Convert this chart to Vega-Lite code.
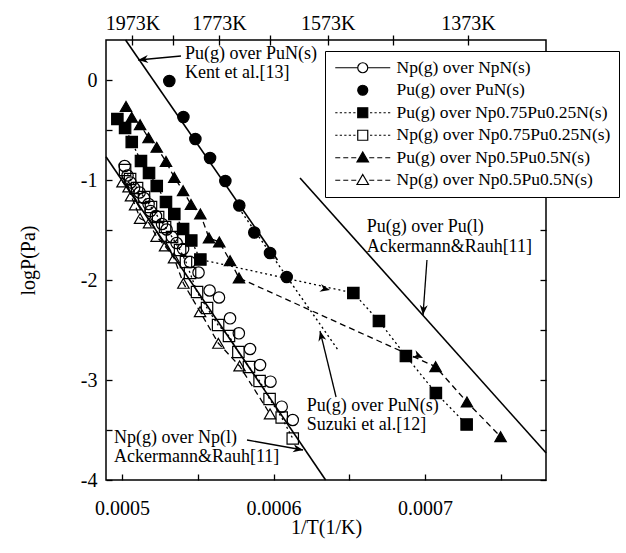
{
  "$schema": "https://vega.github.io/schema/vega-lite/v6.json",
  "width": 440,
  "height": 440,
  "autosize": {"type": "none"},
  "padding": {"left": 106, "top": 40, "right": 80, "bottom": 73},
  "background": "white",
  "datasets": {
    "pts": [
      {"series": "Np(g) over NpN(s)", "x": 0.0005017, "y": -0.86},
      {"series": "Np(g) over NpN(s)", "x": 0.0005036, "y": -0.955},
      {"series": "Np(g) over NpN(s)", "x": 0.0005056, "y": -1.025},
      {"series": "Np(g) over NpN(s)", "x": 0.0005079, "y": -1.08},
      {"series": "Np(g) over NpN(s)", "x": 0.0005116, "y": -1.125},
      {"series": "Np(g) over NpN(s)", "x": 0.0005145, "y": -1.18},
      {"series": "Np(g) over NpN(s)", "x": 0.0005175, "y": -1.24},
      {"series": "Np(g) over NpN(s)", "x": 0.0005188, "y": -1.31},
      {"series": "Np(g) over NpN(s)", "x": 0.0005224, "y": -1.36},
      {"series": "Np(g) over NpN(s)", "x": 0.0005264, "y": -1.44},
      {"series": "Np(g) over NpN(s)", "x": 0.0005294, "y": -1.495},
      {"series": "Np(g) over NpN(s)", "x": 0.000533, "y": -1.57},
      {"series": "Np(g) over NpN(s)", "x": 0.000536, "y": -1.63},
      {"series": "Np(g) over NpN(s)", "x": 0.0005403, "y": -1.69},
      {"series": "Np(g) over NpN(s)", "x": 0.0005449, "y": -1.82},
      {"series": "Np(g) over NpN(s)", "x": 0.0005505, "y": -1.925},
      {"series": "Np(g) over NpN(s)", "x": 0.0005578, "y": -2.105},
      {"series": "Np(g) over NpN(s)", "x": 0.000564, "y": -2.175},
      {"series": "Np(g) over NpN(s)", "x": 0.0005713, "y": -2.383},
      {"series": "Np(g) over NpN(s)", "x": 0.0005771, "y": -2.533},
      {"series": "Np(g) over NpN(s)", "x": 0.0005845, "y": -2.69},
      {"series": "Np(g) over NpN(s)", "x": 0.0005911, "y": -2.85},
      {"series": "Np(g) over NpN(s)", "x": 0.000598, "y": -3.017},
      {"series": "Np(g) over NpN(s)", "x": 0.0006054, "y": -3.267},
      {"series": "Np(g) over NpN(s)", "x": 0.0006127, "y": -3.4},
      {"series": "Pu(g) over PuN(s)", "x": 0.0005312, "y": -0.01},
      {"series": "Pu(g) over PuN(s)", "x": 0.0005405, "y": -0.37},
      {"series": "Pu(g) over PuN(s)", "x": 0.0005484, "y": -0.59},
      {"series": "Pu(g) over PuN(s)", "x": 0.0005581, "y": -0.78},
      {"series": "Pu(g) over PuN(s)", "x": 0.0005682, "y": -1.01},
      {"series": "Pu(g) over PuN(s)", "x": 0.0005774, "y": -1.255},
      {"series": "Pu(g) over PuN(s)", "x": 0.0005873, "y": -1.525},
      {"series": "Pu(g) over PuN(s)", "x": 0.0005977, "y": -1.73},
      {"series": "Pu(g) over PuN(s)", "x": 0.0006087, "y": -1.97},
      {"series": "Pu(g) over Np0.75Pu0.25N(s)", "x": 0.0004969, "y": -0.39},
      {"series": "Pu(g) over Np0.75Pu0.25N(s)", "x": 0.000502, "y": -0.48},
      {"series": "Pu(g) over Np0.75Pu0.25N(s)", "x": 0.0005064, "y": -0.62},
      {"series": "Pu(g) over Np0.75Pu0.25N(s)", "x": 0.0005125, "y": -0.81},
      {"series": "Pu(g) over Np0.75Pu0.25N(s)", "x": 0.0005178, "y": -0.93},
      {"series": "Pu(g) over Np0.75Pu0.25N(s)", "x": 0.0005229, "y": -1.06},
      {"series": "Pu(g) over Np0.75Pu0.25N(s)", "x": 0.000529, "y": -1.22},
      {"series": "Pu(g) over Np0.75Pu0.25N(s)", "x": 0.0005345, "y": -1.34},
      {"series": "Pu(g) over Np0.75Pu0.25N(s)", "x": 0.0005403, "y": -1.49},
      {"series": "Pu(g) over Np0.75Pu0.25N(s)", "x": 0.0005457, "y": -1.605},
      {"series": "Pu(g) over Np0.75Pu0.25N(s)", "x": 0.0005517, "y": -1.795},
      {"series": "Pu(g) over Np0.75Pu0.25N(s)", "x": 0.0006527, "y": -2.13},
      {"series": "Pu(g) over Np0.75Pu0.25N(s)", "x": 0.0006696, "y": -2.41},
      {"series": "Pu(g) over Np0.75Pu0.25N(s)", "x": 0.0006874, "y": -2.76},
      {"series": "Pu(g) over Np0.75Pu0.25N(s)", "x": 0.0007072, "y": -3.13},
      {"series": "Pu(g) over Np0.75Pu0.25N(s)", "x": 0.0007275, "y": -3.445},
      {"series": "Np(g) over Np0.75Pu0.25N(s)", "x": 0.000502, "y": -0.9},
      {"series": "Np(g) over Np0.75Pu0.25N(s)", "x": 0.0005053, "y": -0.99},
      {"series": "Np(g) over Np0.75Pu0.25N(s)", "x": 0.0005099, "y": -1.08},
      {"series": "Np(g) over Np0.75Pu0.25N(s)", "x": 0.0005145, "y": -1.17},
      {"series": "Np(g) over Np0.75Pu0.25N(s)", "x": 0.0005191, "y": -1.27},
      {"series": "Np(g) over Np0.75Pu0.25N(s)", "x": 0.0005238, "y": -1.37},
      {"series": "Np(g) over Np0.75Pu0.25N(s)", "x": 0.0005284, "y": -1.47},
      {"series": "Np(g) over Np0.75Pu0.25N(s)", "x": 0.000533, "y": -1.57},
      {"series": "Np(g) over Np0.75Pu0.25N(s)", "x": 0.0005383, "y": -1.7},
      {"series": "Np(g) over Np0.75Pu0.25N(s)", "x": 0.0005422, "y": -1.82},
      {"series": "Np(g) over Np0.75Pu0.25N(s)", "x": 0.0005449, "y": -1.93},
      {"series": "Np(g) over Np0.75Pu0.25N(s)", "x": 0.0005495, "y": -2.12},
      {"series": "Np(g) over Np0.75Pu0.25N(s)", "x": 0.0005561, "y": -2.28},
      {"series": "Np(g) over Np0.75Pu0.25N(s)", "x": 0.0005634, "y": -2.45},
      {"series": "Np(g) over Np0.75Pu0.25N(s)", "x": 0.0005706, "y": -2.56},
      {"series": "Np(g) over Np0.75Pu0.25N(s)", "x": 0.0005768, "y": -2.72},
      {"series": "Np(g) over Np0.75Pu0.25N(s)", "x": 0.0005838, "y": -2.87},
      {"series": "Np(g) over Np0.75Pu0.25N(s)", "x": 0.0005908, "y": -3.01},
      {"series": "Np(g) over Np0.75Pu0.25N(s)", "x": 0.0005974, "y": -3.19},
      {"series": "Np(g) over Np0.75Pu0.25N(s)", "x": 0.0006054, "y": -3.375},
      {"series": "Np(g) over Np0.75Pu0.25N(s)", "x": 0.0006127, "y": -3.585},
      {"series": "Pu(g) over Np0.5Pu0.5N(s)", "x": 0.0005026, "y": -0.265},
      {"series": "Pu(g) over Np0.5Pu0.5N(s)", "x": 0.0005064, "y": -0.373},
      {"series": "Pu(g) over Np0.5Pu0.5N(s)", "x": 0.0005119, "y": -0.447},
      {"series": "Pu(g) over Np0.5Pu0.5N(s)", "x": 0.0005175, "y": -0.578},
      {"series": "Pu(g) over Np0.5Pu0.5N(s)", "x": 0.0005229, "y": -0.673},
      {"series": "Pu(g) over Np0.5Pu0.5N(s)", "x": 0.000529, "y": -0.815},
      {"series": "Pu(g) over Np0.5Pu0.5N(s)", "x": 0.0005345, "y": -0.975},
      {"series": "Pu(g) over Np0.5Pu0.5N(s)", "x": 0.0005403, "y": -1.107},
      {"series": "Pu(g) over Np0.5Pu0.5N(s)", "x": 0.0005455, "y": -1.245},
      {"series": "Pu(g) over Np0.5Pu0.5N(s)", "x": 0.0005517, "y": -1.34},
      {"series": "Pu(g) over Np0.5Pu0.5N(s)", "x": 0.0005574, "y": -1.58},
      {"series": "Pu(g) over Np0.5Pu0.5N(s)", "x": 0.0005642, "y": -1.62},
      {"series": "Pu(g) over Np0.5Pu0.5N(s)", "x": 0.0005713, "y": -1.807},
      {"series": "Pu(g) over Np0.5Pu0.5N(s)", "x": 0.0005772, "y": -1.98},
      {"series": "Pu(g) over Np0.5Pu0.5N(s)", "x": 0.000707, "y": -2.867},
      {"series": "Pu(g) over Np0.5Pu0.5N(s)", "x": 0.0007277, "y": -3.22},
      {"series": "Pu(g) over Np0.5Pu0.5N(s)", "x": 0.0007499, "y": -3.567},
      {"series": "Np(g) over Np0.5Pu0.5N(s)", "x": 0.0005003, "y": -1.02},
      {"series": "Np(g) over Np0.5Pu0.5N(s)", "x": 0.0005043, "y": -1.07},
      {"series": "Np(g) over Np0.5Pu0.5N(s)", "x": 0.0005059, "y": -1.16},
      {"series": "Np(g) over Np0.5Pu0.5N(s)", "x": 0.0005086, "y": -1.25},
      {"series": "Np(g) over Np0.5Pu0.5N(s)", "x": 0.0005119, "y": -1.385},
      {"series": "Np(g) over Np0.5Pu0.5N(s)", "x": 0.0005178, "y": -1.43},
      {"series": "Np(g) over Np0.5Pu0.5N(s)", "x": 0.0005228, "y": -1.565},
      {"series": "Np(g) over Np0.5Pu0.5N(s)", "x": 0.0005284, "y": -1.66},
      {"series": "Np(g) over Np0.5Pu0.5N(s)", "x": 0.0005343, "y": -1.78},
      {"series": "Np(g) over Np0.5Pu0.5N(s)", "x": 0.0005405, "y": -2.033},
      {"series": "Np(g) over Np0.5Pu0.5N(s)", "x": 0.0005515, "y": -2.317},
      {"series": "Np(g) over Np0.5Pu0.5N(s)", "x": 0.0005636, "y": -2.633},
      {"series": "Np(g) over Np0.5Pu0.5N(s)", "x": 0.0005776, "y": -2.86},
      {"series": "Np(g) over Np0.5Pu0.5N(s)", "x": 0.0005977, "y": -3.34}
    ],
    "ref": [
      {"name": "Kent", "x": 0.0005023, "y": 0.4},
      {"name": "Kent", "x": 0.0006026, "y": -1.8},
      {"name": "NpL", "x": 0.0004894, "y": -0.767},
      {"name": "NpL", "x": 0.0006344, "y": -4.0},
      {"name": "PuL", "x": 0.0006175, "y": -0.98},
      {"name": "PuL", "x": 0.00078, "y": -3.73},
      {"name": "Suzuki", "x": 0.0005752, "y": -1.24},
      {"name": "Suzuki", "x": 0.0006426, "y": -2.7}
    ],
    "txt": [
      {"x": 0.0005416, "y": 0.26, "text": "Pu(g) over PuN(s)"},
      {"x": 0.0005416, "y": 0.07, "text": "Kent et al.[13]"},
      {"x": 0.0006615, "y": -1.467, "text": "Pu(g) over Pu(l)"},
      {"x": 0.0006615, "y": -1.667, "text": "Ackermann&Rauh[11]"},
      {"x": 0.0006219, "y": -3.26, "text": "Pu(g) over PuN(s)"},
      {"x": 0.0006219, "y": -3.45, "text": "Suzuki et al.[12]"},
      {"x": 0.0004947, "y": -3.58, "text": "Np(g) over Np(l)"},
      {"x": 0.0004947, "y": -3.77, "text": "Ackermann&Rauh[11]"}
    ],
    "arr": [
      {"x": 0.0005389, "y": 0.24, "x2": 0.0005106, "y2": 0.2},
      {"x": 0.0007013, "y": -1.8, "x2": 0.0006987, "y2": -2.35},
      {"x": 0.0006413, "y": -3.17, "x2": 0.0006307, "y2": -2.51},
      {"x": 0.0005825, "y": -3.6, "x2": 0.0006195, "y2": -3.7}
    ],
    "heads": [
      {"x": 0.0005106, "y": 0.2, "angle": 174.6},
      {"x": 0.0006987, "y": -2.35, "angle": 94.2},
      {"x": 0.0006307, "y": -2.51, "angle": 256.4},
      {"x": 0.0006195, "y": -3.7, "angle": 10.1},
      {"x": 0.0006373, "y": -2.1, "angle": 12.2},
      {"x": 0.0006987, "y": -2.78, "angle": 24.4}
    ]
  },
  "resolve": {
    "axis": {"x": "independent", "y": "independent"},
    "scale": {"shape": "independent", "fill": "independent", "stroke": "independent"}
  },
  "layer": [
    {
      "data": {"name": "ref"},
      "transform": [{"filter": "datum.name !== 'Suzuki'"}],
      "mark": {"type": "line", "color": "black", "strokeWidth": 1.6},
      "encoding": {
        "x": {"field": "x", "type": "quantitative",
          "scale": {"domain": [0.0004894, 0.0007799], "nice": false, "zero": false},
          "axis": {"orient": "bottom", "title": "1/T(1/K)",
            "values": [0.0005, 0.00055, 0.0006, 0.00065, 0.0007, 0.00075],
            "labelExpr": "round(datum.value*100000) % 10 === 0 ? format(datum.value, '.4f') : ''",
            "tickSize": -6, "labelPadding": 24, "titlePadding": -1, "labelFlush": false, "labelOverlap": false}},
        "y": {"field": "y", "type": "quantitative",
          "scale": {"domain": [-4, 0.4], "nice": false, "zero": false},
          "axis": {"orient": "left", "title": "logP(Pa)",
            "values": [-4, -3.5, -3, -2.5, -2, -1.5, -1, -0.5, 0],
            "labelExpr": "datum.value % 1 !== 0 ? '' : (datum.value === 0 ? '0' : '-' + abs(datum.value))",
            "tickSize": -6, "labelPadding": 15, "titlePadding": 42, "labelOverlap": false}},
        "detail": {"field": "name"}
      }
    },
    {
      "data": {"name": "ref"},
      "transform": [{"filter": "datum.name === 'Suzuki'"}],
      "mark": {"type": "line", "color": "black", "strokeWidth": 1.4, "strokeDash": [2, 3]},
      "encoding": {
        "x": {"field": "x", "type": "quantitative",
          "scale": {"domain": [0.0004894, 0.0007799], "nice": false, "zero": false},
          "axis": {"orient": "top", "title": null,
            "values": [0.000506842, 0.000533903, 0.000564016, 0.000597729, 0.000635728, 0.000678887, 0.000728332],
            "labelExpr": "indexof([1973, 1773, 1573, 1373], round(1/datum.value)) >= 0 ? round(1/datum.value) + 'K' : ''",
            "offset": -5, "tickSize": 10, "labelPadding": 2, "labelFlush": false, "labelOverlap": false}},
        "y": {"field": "y", "type": "quantitative",
          "scale": {"domain": [-4, 0.4], "nice": false, "zero": false},
          "axis": {"orient": "right", "title": null, "labels": false,
            "values": [-4, -3.5, -3, -2.5, -2, -1.5, -1, -0.5, 0], "tickSize": -6}}
      }
    },
    {
      "data": {"name": "pts"},
      "transform": [{"filter": "indexof(datum.series, '0.75') >= 0"}],
      "mark": {"type": "line", "color": "black", "strokeWidth": 1.3, "strokeDash": [2, 3]},
      "encoding": {
        "x": {"field": "x", "type": "quantitative", "scale": {"domain": [0.0004894, 0.0007799], "nice": false, "zero": false}, "axis": null},
        "y": {"field": "y", "type": "quantitative", "scale": {"domain": [-4, 0.4], "nice": false, "zero": false}, "axis": null},
        "detail": {"field": "series"}
      }
    },
    {
      "data": {"name": "pts"},
      "transform": [{"filter": "indexof(datum.series, '0.5Pu0.5') >= 0"}],
      "mark": {"type": "line", "color": "black", "strokeWidth": 1.3, "strokeDash": [6, 4]},
      "encoding": {
        "x": {"field": "x", "type": "quantitative", "scale": {"domain": [0.0004894, 0.0007799], "nice": false, "zero": false}, "axis": null},
        "y": {"field": "y", "type": "quantitative", "scale": {"domain": [-4, 0.4], "nice": false, "zero": false}, "axis": null},
        "detail": {"field": "series"}
      }
    },
    {
      "data": {"name": "arr"},
      "mark": {"type": "rule", "color": "black", "strokeWidth": 1.3},
      "encoding": {
        "x": {"field": "x", "type": "quantitative", "scale": {"domain": [0.0004894, 0.0007799], "nice": false, "zero": false}, "axis": null},
        "y": {"field": "y", "type": "quantitative", "scale": {"domain": [-4, 0.4], "nice": false, "zero": false}, "axis": null},
        "x2": {"field": "x2"},
        "y2": {"field": "y2"}
      }
    },
    {
      "data": {"name": "heads"},
      "mark": {"type": "point", "shape": "M0,0L-2,-0.8L-1.4,0L-2,0.8Z", "filled": true, "color": "black", "size": 100, "opacity": 1},
      "encoding": {
        "x": {"field": "x", "type": "quantitative", "scale": {"domain": [0.0004894, 0.0007799], "nice": false, "zero": false}, "axis": null},
        "y": {"field": "y", "type": "quantitative", "scale": {"domain": [-4, 0.4], "nice": false, "zero": false}, "axis": null},
        "angle": {"field": "angle", "type": "quantitative", "scale": null}
      }
    },
    {
      "data": {"name": "pts"},
      "mark": {"type": "point", "filled": true, "stroke": "black", "strokeWidth": 1.2, "opacity": 1, "size": 130},
      "encoding": {
        "x": {"field": "x", "type": "quantitative", "scale": {"domain": [0.0004894, 0.0007799], "nice": false, "zero": false}, "axis": null},
        "y": {"field": "y", "type": "quantitative", "scale": {"domain": [-4, 0.4], "nice": false, "zero": false}, "axis": null},
        "fill": {"field": "series", "type": "nominal",
          "scale": {"domain": ["Np(g) over NpN(s)", "Pu(g) over PuN(s)", "Pu(g) over Np0.75Pu0.25N(s)", "Np(g) over Np0.75Pu0.25N(s)", "Pu(g) over Np0.5Pu0.5N(s)", "Np(g) over Np0.5Pu0.5N(s)"],
            "range": ["transparent", "black", "black", "transparent", "black", "transparent"]},
          "legend": null},
        "shape": {"field": "series", "type": "nominal",
          "scale": {"domain": ["Np(g) over NpN(s)", "Pu(g) over PuN(s)", "Pu(g) over Np0.75Pu0.25N(s)", "Np(g) over Np0.75Pu0.25N(s)", "Pu(g) over Np0.5Pu0.5N(s)", "Np(g) over Np0.5Pu0.5N(s)"],
            "range": ["circle", "circle", "square", "square", "triangle-up", "triangle-up"]},
          "legend": null}
      }
    },
    {
      "data": {"name": "pts"},
      "transform": [{"filter": "false"}],
      "mark": {"type": "point", "filled": true, "size": 100, "strokeWidth": 1.2},
      "encoding": {
        "x": {"field": "x", "type": "quantitative", "scale": {"domain": [0.0004894, 0.0007799], "nice": false, "zero": false}, "axis": null},
        "y": {"field": "y", "type": "quantitative", "scale": {"domain": [-4, 0.4], "nice": false, "zero": false}, "axis": null},
        "fill": {"field": "series", "type": "nominal",
          "scale": {"domain": ["Np(g) over NpN(s)", "Pu(g) over PuN(s)", "Pu(g) over Np0.75Pu0.25N(s)", "Np(g) over Np0.75Pu0.25N(s)", "Pu(g) over Np0.5Pu0.5N(s)", "Np(g) over Np0.5Pu0.5N(s)"],
            "range": ["white", "black", "black", "white", "black", "white"]},
          "legend": {
            "orient": "none", "legendX": 219, "legendY": 11, "title": null, "zindex": 2,
            "padding": 8, "fillColor": "white", "strokeColor": "black",
            "labelFont": "Liberation Serif", "labelFontSize": 17.5, "labelColor": "black", "labelLimit": 400,
            "symbolSize": 100, "symbolOffset": 21, "labelOffset": 25, "rowPadding": 3.5,
            "symbolStrokeWidth": 1.2, "symbolOpacity": 1}},
        "stroke": {"field": "series", "type": "nominal",
          "scale": {"domain": ["Np(g) over NpN(s)", "Pu(g) over PuN(s)", "Pu(g) over Np0.75Pu0.25N(s)", "Np(g) over Np0.75Pu0.25N(s)", "Pu(g) over Np0.5Pu0.5N(s)", "Np(g) over Np0.5Pu0.5N(s)"],
            "range": ["black", "black", "black", "black", "black", "black"]},
          "legend": {
            "orient": "none", "legendX": 219, "legendY": 11, "title": null, "zindex": 2,
            "padding": 8, "fillColor": "white", "strokeColor": "black",
            "labelFont": "Liberation Serif", "labelFontSize": 17.5, "labelColor": "black", "labelLimit": 400,
            "symbolSize": 100, "symbolOffset": 21, "labelOffset": 25, "rowPadding": 3.5,
            "symbolStrokeWidth": 1.2, "symbolOpacity": 1}},
        "shape": {"field": "series", "type": "nominal",
          "scale": {"domain": ["Np(g) over NpN(s)", "Pu(g) over PuN(s)", "Pu(g) over Np0.75Pu0.25N(s)", "Np(g) over Np0.75Pu0.25N(s)", "Pu(g) over Np0.5Pu0.5N(s)", "Np(g) over Np0.5Pu0.5N(s)"],
            "range": [
              "M-5.5,0L-1,0M1,0L5.5,0M1,0A1,1,0,1,1,-1,0A1,1,0,1,1,1,0Z",
              "circle",
              "M-5.5,0L-5.05,0M-4.6,0L-4.15,0M-3.7,0L-3.25,0M-2.8,0L-2.35,0M-1.9,0L-1.45,0M1.45,0L1.9,0M2.35,0L2.8,0M3.25,0L3.7,0M4.15,0L4.6,0M5.05,0L5.5,0M-1,-1L1,-1L1,1L-1,1Z",
              "M-5.5,0L-5.05,0M-4.6,0L-4.15,0M-3.7,0L-3.25,0M-2.8,0L-2.35,0M-1.9,0L-1.45,0M1.45,0L1.9,0M2.35,0L2.8,0M3.25,0L3.7,0M4.15,0L4.6,0M5.05,0L5.5,0M-1,-1L1,-1L1,1L-1,1Z",
              "M-5.5,0L-4.5,0M-3.9,0L-2.9,0M-2.3,0L-1.3,0M1.3,0L2.3,0M2.9,0L3.9,0M4.5,0L5.5,0M0,-1.15L1.15,0.85L-1.15,0.85Z",
              "M-5.5,0L-4.5,0M-3.9,0L-2.9,0M-2.3,0L-1.3,0M1.3,0L2.3,0M2.9,0L3.9,0M4.5,0L5.5,0M0,-1.15L1.15,0.85L-1.15,0.85Z"
            ]},
          "legend": {
            "orient": "none", "legendX": 219, "legendY": 11, "title": null, "zindex": 2,
            "padding": 8, "fillColor": "white", "strokeColor": "black",
            "labelFont": "Liberation Serif", "labelFontSize": 17.5, "labelColor": "black", "labelLimit": 400,
            "symbolSize": 100, "symbolOffset": 21, "labelOffset": 25, "rowPadding": 3.5,
            "symbolStrokeWidth": 1.2, "symbolOpacity": 1}}
      }
    },
    {
      "data": {"name": "txt"},
      "mark": {"type": "text", "align": "left", "baseline": "middle", "font": "Liberation Serif", "fontSize": 18, "color": "black"},
      "encoding": {
        "x": {"field": "x", "type": "quantitative", "scale": {"domain": [0.0004894, 0.0007799], "nice": false, "zero": false}, "axis": null},
        "y": {"field": "y", "type": "quantitative", "scale": {"domain": [-4, 0.4], "nice": false, "zero": false}, "axis": null},
        "text": {"field": "text"}
      }
    }
  ],
  "config": {
    "font": "Liberation Serif",
    "view": {"stroke": "black", "strokeWidth": 1.5},
    "axis": {
      "grid": false, "domain": false,
      "labelFont": "Liberation Serif", "labelFontSize": 20, "labelColor": "black",
      "tickColor": "black", "tickWidth": 1.3,
      "titleFont": "Liberation Serif", "titleFontSize": 20, "titleFontWeight": "normal", "titleColor": "black"
    }
  }
}
